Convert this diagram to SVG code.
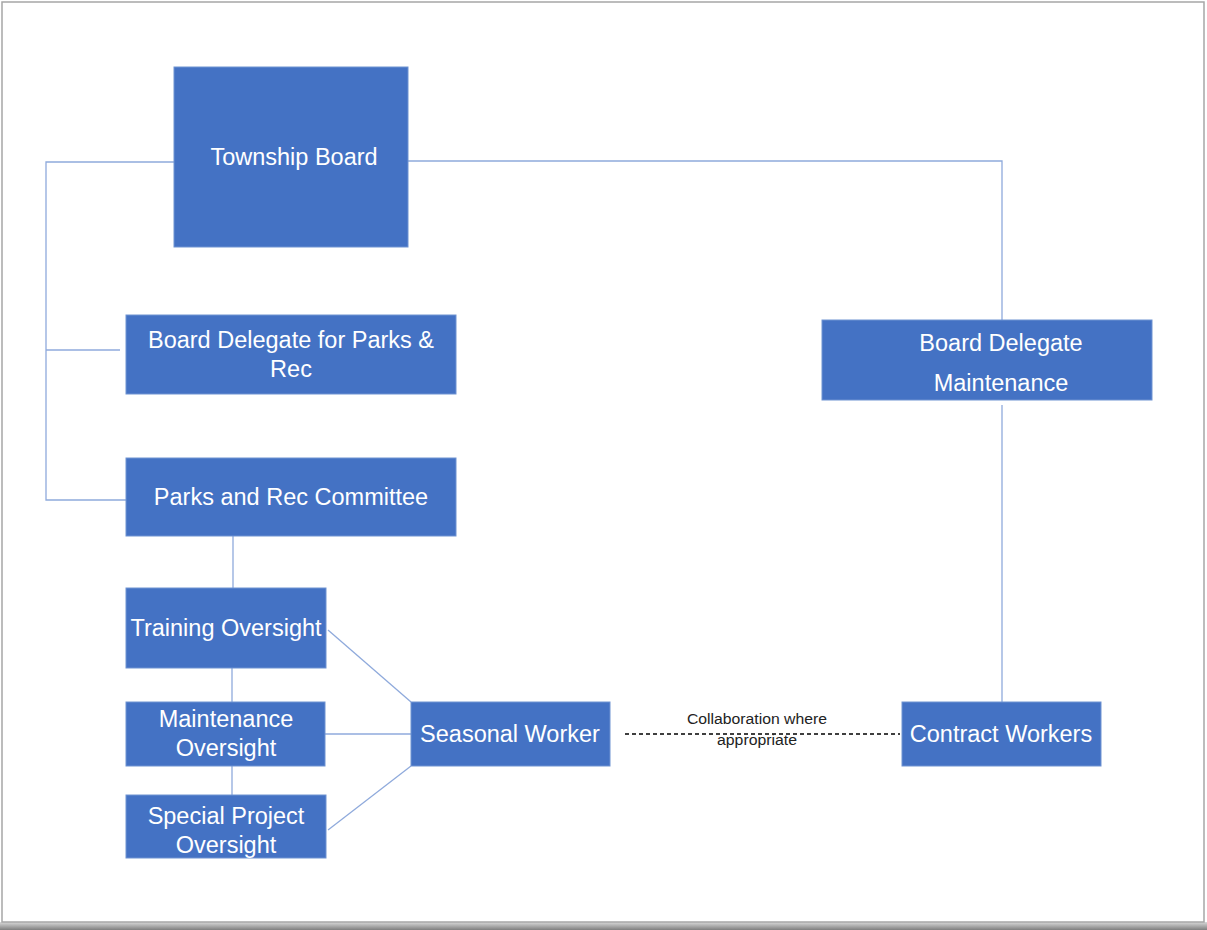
<svg xmlns="http://www.w3.org/2000/svg" width="1207" height="930" viewBox="0 0 1207 930">
<defs>
<linearGradient id="sh" x1="0" y1="0" x2="0" y2="1">
<stop offset="0" stop-color="#d9d9d9"/>
<stop offset="1" stop-color="#7f7f7f"/>
</linearGradient>
</defs>
<style>
.box{fill:#4472C4;stroke:#6f93d2;stroke-width:1}
.t{font-family:"Liberation Sans",Arial,sans-serif;font-size:23.5px;fill:#ffffff;text-anchor:middle}
.ln{stroke:#8FAADC;stroke-width:1.3;fill:none}
.lbl{font-family:"Liberation Sans",Arial,sans-serif;font-size:14px;fill:#222222;text-anchor:middle}
</style>
<rect x="0" y="0" width="1207" height="930" fill="#ffffff"/>
<rect x="0" y="922" width="1207" height="8" fill="url(#sh)"/>
<rect x="2" y="2" width="1202" height="920" fill="#ffffff" stroke="#a6a6a6" stroke-width="1.5"/>
<g id="connectors">
<polyline class="ln" points="174,162 46,162 46,500 126,500"/>
<line class="ln" x1="46" y1="350" x2="120" y2="350"/>
<polyline class="ln" points="408,161 1002,161 1002,320"/>
<line class="ln" x1="1002" y1="405" x2="1002" y2="702"/>
<line class="ln" x1="233" y1="536" x2="233" y2="588"/>
<line class="ln" x1="232" y1="668" x2="232" y2="702"/>
<line class="ln" x1="232" y1="766" x2="232" y2="795"/>
<line class="ln" x1="328" y1="630" x2="411" y2="702"/>
<line class="ln" x1="325" y1="734" x2="411" y2="734"/>
<line class="ln" x1="328" y1="830" x2="411" y2="766"/>
<line x1="625" y1="734" x2="900" y2="734" stroke="#000000" stroke-width="1.3" stroke-dasharray="4,3"/>
<text class="lbl" x="757" y="724" textLength="140" lengthAdjust="spacingAndGlyphs">Collaboration where</text>
<text class="lbl" x="757" y="745" textLength="80" lengthAdjust="spacingAndGlyphs">appropriate</text>
</g>
<g id="township-board"><rect class="box" x="174" y="67" width="234" height="180"/><text class="t" x="294" y="165">Township Board</text></g>
<g id="board-delegate-parks"><rect class="box" x="126" y="315" width="330" height="79"/><text class="t" x="291" y="348">Board Delegate for Parks &amp;</text><text class="t" x="291" y="377">Rec</text></g>
<g id="parks-committee"><rect class="box" x="126" y="458" width="330" height="78"/><text class="t" x="291" y="505">Parks and Rec Committee</text></g>
<g id="training-oversight"><rect class="box" x="126" y="588" width="200" height="80"/><text class="t" x="226" y="636">Training Oversight</text></g>
<g id="maintenance-oversight"><rect class="box" x="126" y="702" width="199" height="64"/><text class="t" x="226" y="727">Maintenance</text><text class="t" x="226" y="756">Oversight</text></g>
<g id="special-project-oversight"><rect class="box" x="126" y="795" width="200" height="63"/><text class="t" x="226" y="824">Special Project</text><text class="t" x="226" y="853">Oversight</text></g>
<g id="seasonal-worker"><rect class="box" x="411" y="702" width="199" height="64"/><text class="t" x="510" y="742">Seasonal Worker</text></g>
<g id="contract-workers"><rect class="box" x="902" y="702" width="199" height="64"/><text class="t" x="1001" y="742">Contract Workers</text></g>
<g id="board-delegate-maintenance"><rect class="box" x="822" y="320" width="330" height="80"/><text class="t" x="1001" y="351">Board Delegate</text><text class="t" x="1001" y="391">Maintenance</text></g>
</svg>
